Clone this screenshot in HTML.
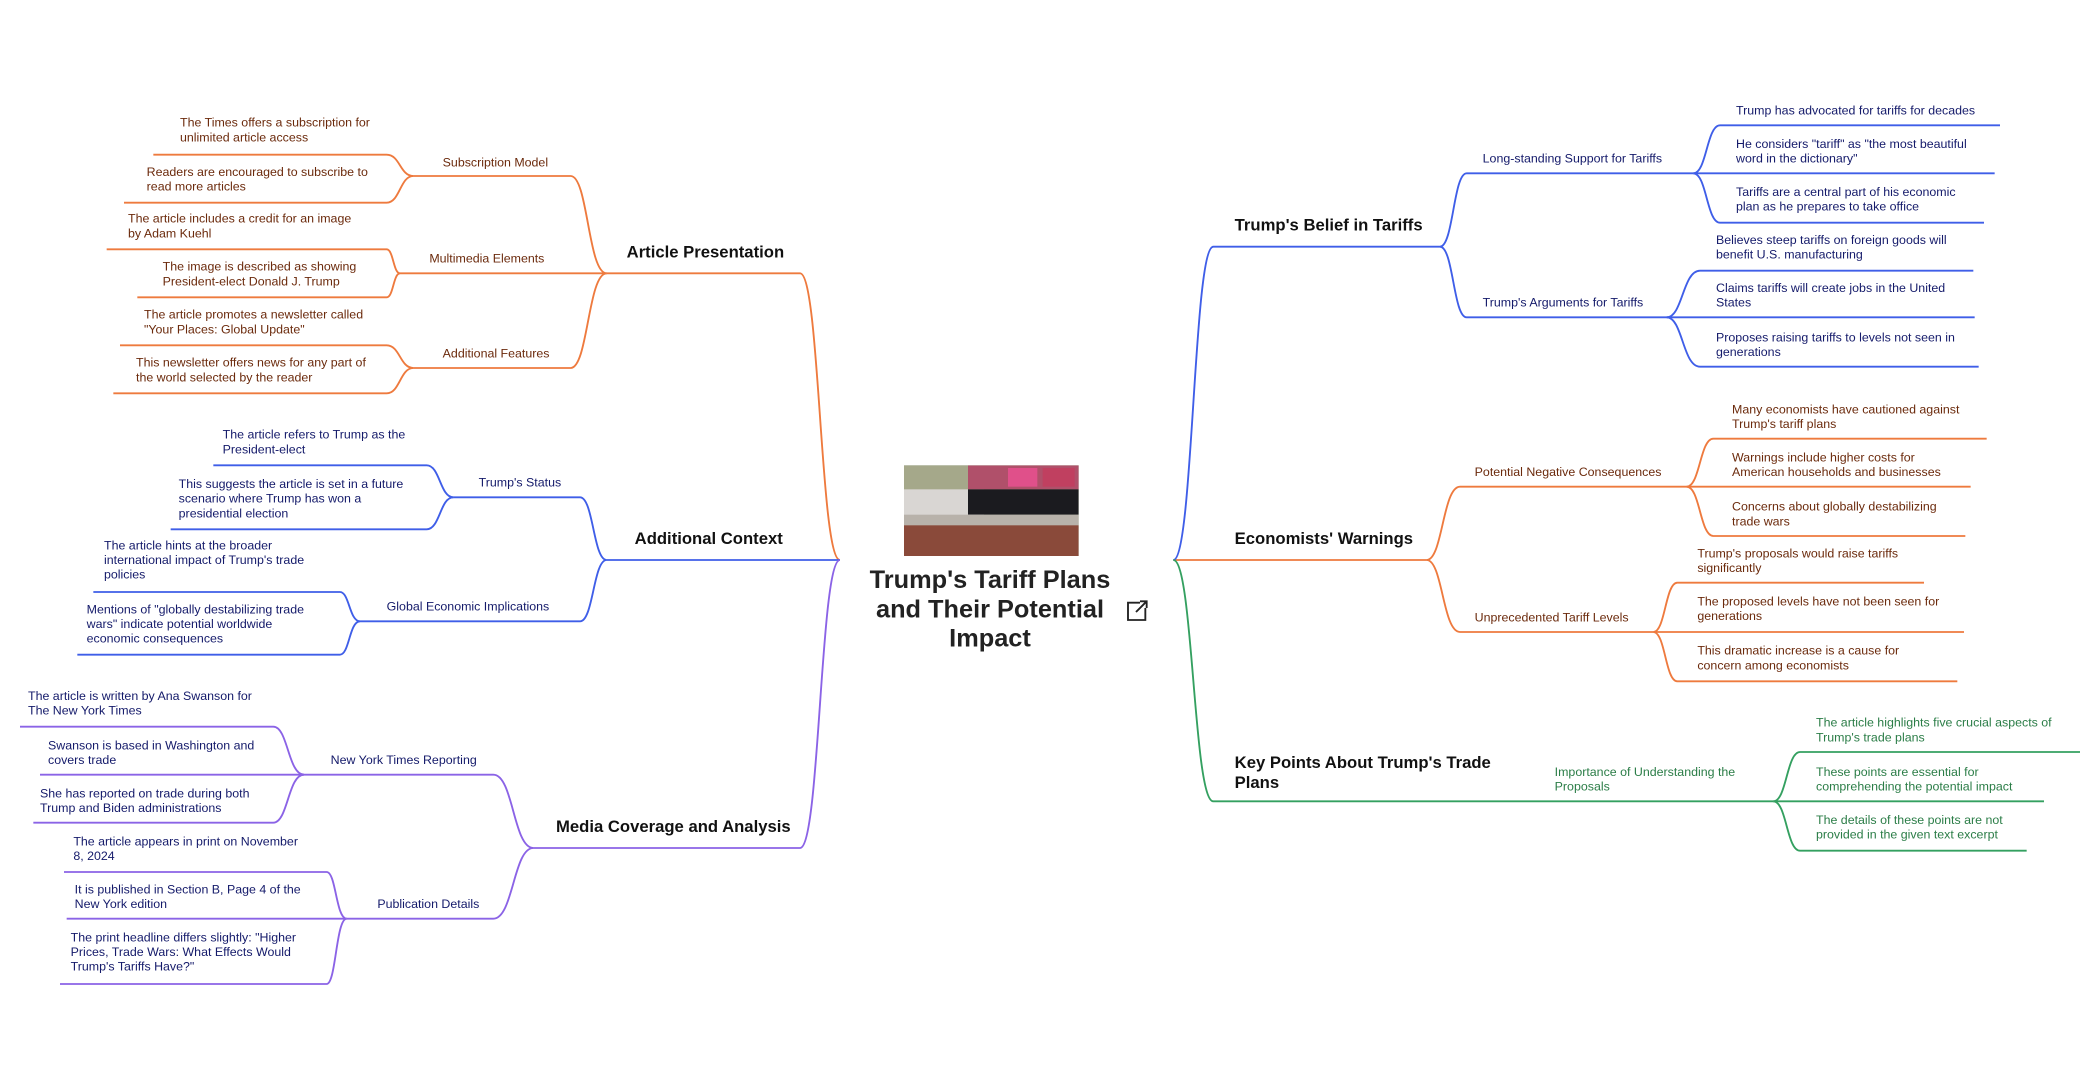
<!DOCTYPE html>
<html><head><meta charset="utf-8"><style>
html,body{margin:0;padding:0;background:#fff;overflow:hidden}
#w{position:relative;width:2080px;height:1072px;overflow:hidden}
#s{position:absolute;left:0;top:0;width:1560px;height:804px;transform:scale(1.33333);transform-origin:0 0;font-family:"Liberation Sans",sans-serif}
.t{position:absolute;font-size:9.3px;line-height:11px;white-space:nowrap}
.o{color:#6b2a0c}.b{color:#141a6a}.g{color:#2b7d47}
.m{position:absolute;font-size:12.5px;font-weight:bold;line-height:15px;color:#111;white-space:nowrap}
svg{position:absolute;left:0;top:0}
path{fill:none;stroke-width:1.4}
</style></head><body><div id="w"><div id="s">
<svg width="1560" height="804">
<g stroke="#ee7a3e">
<path d="M630 420 C615 420 615 205 600 205 L455 205"/>
<path d="M455 205 C441 205 441 132 428 132 L310 132"/>
<path d="M455 205 L300 205"/>
<path d="M455 205 C441 205 441 276 428 276 L310 276"/>
<path d="M310 132 C300 132 300 116 290 116 L115 116"/>
<path d="M310 132 C300 132 300 152 290 152 L93 152"/>
<path d="M300 205 C295 205 295 187 290 187 L80 187"/>
<path d="M300 205 C295 205 295 223 290 223 L103 223"/>
<path d="M310 276 C300 276 300 259 290 259 L90 259"/>
<path d="M310 276 C300 276 300 295 290 295 L85 295"/>
<path d="M880 420 L1070 420"/>
<path d="M1070 420 C1082 420 1082 365 1095 365 L1265 365"/>
<path d="M1070 420 C1082 420 1082 474 1095 474 L1240 474"/>
<path d="M1265 365 C1275 365 1275 329 1285 329 L1490 329"/>
<path d="M1265 365 L1478 365"/>
<path d="M1265 365 C1275 365 1275 402 1285 402 L1474 402"/>
<path d="M1240 474 C1249 474 1249 437 1258 437 L1443 437"/>
<path d="M1240 474 L1473 474"/>
<path d="M1240 474 C1249 474 1249 511 1258 511 L1468 511"/>
</g>
<g stroke="#3f5ee8">
<path d="M630 420 L455 420"/>
<path d="M455 420 C445 420 445 373 435 373 L340 373"/>
<path d="M455 420 C445 420 445 466 435 466 L270 466"/>
<path d="M340 373 C330 373 330 349 320 349 L160 349"/>
<path d="M340 373 C330 373 330 397 320 397 L128 397"/>
<path d="M270 466 C262 466 262 444 255 444 L70 444"/>
<path d="M270 466 C262 466 262 491 255 491 L58 491"/>
<path d="M880 420 C895 420 895 185 910 185 L1080 185"/>
<path d="M1080 185 C1090 185 1090 130 1100 130 L1270 130"/>
<path d="M1080 185 C1090 185 1090 238 1100 238 L1250 238"/>
<path d="M1270 130 C1280 130 1280 94 1290 94 L1500 94"/>
<path d="M1270 130 L1496 130"/>
<path d="M1270 130 C1280 130 1280 167 1290 167 L1488 167"/>
<path d="M1250 238 C1262 238 1262 203 1275 203 L1480 203"/>
<path d="M1250 238 L1481 238"/>
<path d="M1250 238 C1262 238 1262 275 1275 275 L1484 275"/>
</g>
<g stroke="#8b63e6">
<path d="M630 420 C615 420 615 636 600 636 L400 636"/>
<path d="M400 636 C385 636 385 581 370 581 L228 581"/>
<path d="M400 636 C385 636 385 689 370 689 L260 689"/>
<path d="M228 581 C216 581 216 545 205 545 L15 545"/>
<path d="M228 581 L30 581"/>
<path d="M228 581 C216 581 216 617 205 617 L25 617"/>
<path d="M260 689 C252 689 252 654 245 654 L48 654"/>
<path d="M260 689 L50 689"/>
<path d="M260 689 C252 689 252 738 245 738 L45 738"/>
</g>
<g stroke="#34a060">
<path d="M880 420 C895 420 895 601 910 601 L1330 601"/>
<path d="M1330 601 C1340 601 1340 564 1350 564 L1560 564"/>
<path d="M1330 601 L1533 601"/>
<path d="M1330 601 C1340 601 1340 638 1350 638 L1520 638"/>
</g>
<g stroke="#222" stroke-width="1.6" fill="none">
<path d="M855 452 L846 452 L846 465 L859 465 L859 456" style="stroke:#222"/>
<path d="M852 459 L860 451 M855 451 L860 451 L860 456" style="stroke:#222"/>
</g>
</svg>
<div style="position:absolute;left:678px;top:349px;width:131px;height:68px;overflow:hidden;background:#8f9a7a">
<div style="position:absolute;left:0;top:0;width:131px;height:20px;background:#a5a88a"></div>
<div style="position:absolute;left:0;top:18px;width:60px;height:22px;background:#d9d6d3"></div>
<div style="position:absolute;left:48px;top:0;width:83px;height:18px;background:#b0506a"></div>
<div style="position:absolute;left:78px;top:2px;width:22px;height:14px;background:#e0508a"></div>
<div style="position:absolute;left:104px;top:2px;width:24px;height:14px;background:#c04060"></div>
<div style="position:absolute;left:48px;top:18px;width:83px;height:19px;background:#1b1b1f"></div>
<div style="position:absolute;left:0;top:37px;width:131px;height:10px;background:#b8b2aa"></div>
<div style="position:absolute;left:0;top:45px;width:131px;height:23px;background:#8a4a3a"></div>
</div>
<div class="m" style="left:620px;top:425px;width:245px;text-align:center;font-size:19px;line-height:22px;color:#222">Trump's Tariff Plans<br>and Their Potential<br>Impact</div>

<div class="m" style="left:470px;top:182px">Article Presentation</div>
<div class="m" style="left:476px;top:397px">Additional Context</div>
<div class="m" style="left:417px;top:613px">Media Coverage and Analysis</div>
<div class="m" style="left:926px;top:162px">Trump's Belief in Tariffs</div>
<div class="m" style="left:926px;top:397px">Economists' Warnings</div>
<div class="m" style="left:926px;top:565px">Key Points About Trump's Trade<br>Plans</div>

<div class="t o" style="left:332px;top:117px">Subscription Model</div>
<div class="t o" style="left:322px;top:189px">Multimedia Elements</div>
<div class="t o" style="left:332px;top:260px">Additional Features</div>
<div class="t o" style="left:135px;top:87px">The Times offers a subscription for<br>unlimited article access</div>
<div class="t o" style="left:110px;top:124px">Readers are encouraged to subscribe to<br>read more articles</div>
<div class="t o" style="left:96px;top:159px">The article includes a credit for an image<br>by Adam Kuehl</div>
<div class="t o" style="left:122px;top:195px">The image is described as showing<br>President-elect Donald J. Trump</div>
<div class="t o" style="left:108px;top:231px">The article promotes a newsletter called<br>"Your Places: Global Update"</div>
<div class="t o" style="left:102px;top:267px">This newsletter offers news for any part of<br>the world selected by the reader</div>

<div class="t b" style="left:359px;top:357px">Trump's Status</div>
<div class="t b" style="left:290px;top:450px">Global Economic Implications</div>
<div class="t b" style="left:167px;top:321px">The article refers to Trump as the<br>President-elect</div>
<div class="t b" style="left:134px;top:358px">This suggests the article is set in a future<br>scenario where Trump has won a<br>presidential election</div>
<div class="t b" style="left:78px;top:404px">The article hints at the broader<br>international impact of Trump's trade<br>policies</div>
<div class="t b" style="left:65px;top:452px">Mentions of "globally destabilizing trade<br>wars" indicate potential worldwide<br>economic consequences</div>

<div class="t b" style="left:248px;top:565px">New York Times Reporting</div>
<div class="t b" style="left:283px;top:673px">Publication Details</div>
<div class="t b" style="left:21px;top:517px">The article is written by Ana Swanson for<br>The New York Times</div>
<div class="t b" style="left:36px;top:554px">Swanson is based in Washington and<br>covers trade</div>
<div class="t b" style="left:30px;top:590px">She has reported on trade during both<br>Trump and Biden administrations</div>
<div class="t b" style="left:55px;top:626px">The article appears in print on November<br>8, 2024</div>
<div class="t b" style="left:56px;top:662px">It is published in Section B, Page 4 of the<br>New York edition</div>
<div class="t b" style="left:53px;top:698px">The print headline differs slightly: "Higher<br>Prices, Trade Wars: What Effects Would<br>Trump's Tariffs Have?"</div>

<div class="t b" style="left:1112px;top:114px">Long-standing Support for Tariffs</div>
<div class="t b" style="left:1112px;top:222px">Trump's Arguments for Tariffs</div>
<div class="t b" style="left:1302px;top:78px">Trump has advocated for tariffs for decades</div>
<div class="t b" style="left:1302px;top:103px">He considers "tariff" as "the most beautiful<br>word in the dictionary"</div>
<div class="t b" style="left:1302px;top:139px">Tariffs are a central part of his economic<br>plan as he prepares to take office</div>
<div class="t b" style="left:1287px;top:175px">Believes steep tariffs on foreign goods will<br>benefit U.S. manufacturing</div>
<div class="t b" style="left:1287px;top:211px">Claims tariffs will create jobs in the United<br>States</div>
<div class="t b" style="left:1287px;top:248px">Proposes raising tariffs to levels not seen in<br>generations</div>

<div class="t o" style="left:1106px;top:349px">Potential Negative Consequences</div>
<div class="t o" style="left:1106px;top:458px">Unprecedented Tariff Levels</div>
<div class="t o" style="left:1299px;top:302px">Many economists have cautioned against<br>Trump's tariff plans</div>
<div class="t o" style="left:1299px;top:338px">Warnings include higher costs for<br>American households and businesses</div>
<div class="t o" style="left:1299px;top:375px">Concerns about globally destabilizing<br>trade wars</div>
<div class="t o" style="left:1273px;top:410px">Trump's proposals would raise tariffs<br>significantly</div>
<div class="t o" style="left:1273px;top:446px">The proposed levels have not been seen for<br>generations</div>
<div class="t o" style="left:1273px;top:483px">This dramatic increase is a cause for<br>concern among economists</div>

<div class="t g" style="left:1166px;top:574px">Importance of Understanding the<br>Proposals</div>
<div class="t g" style="left:1362px;top:537px">The article highlights five crucial aspects of<br>Trump's trade plans</div>
<div class="t g" style="left:1362px;top:574px">These points are essential for<br>comprehending the potential impact</div>
<div class="t g" style="left:1362px;top:610px">The details of these points are not<br>provided in the given text excerpt</div>
</div></div></body></html>
